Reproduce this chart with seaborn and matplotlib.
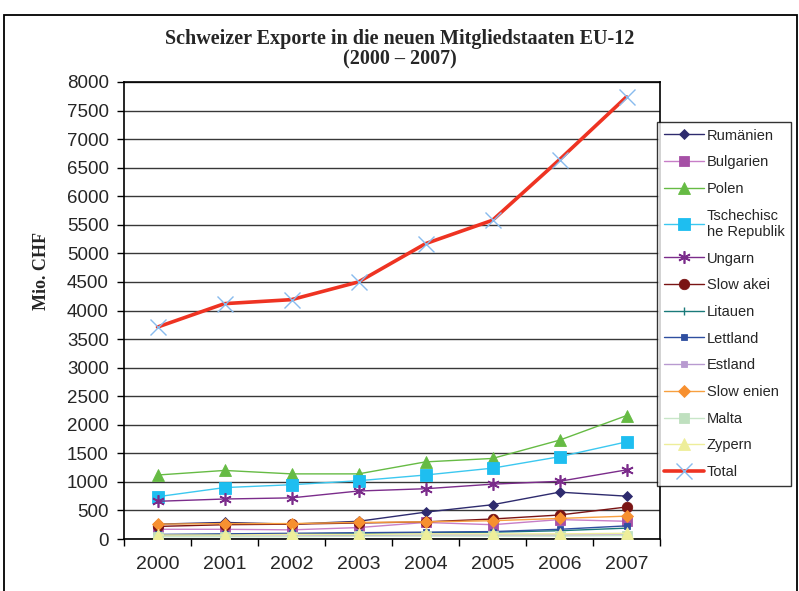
import matplotlib
matplotlib.use("Agg")
import matplotlib.pyplot as plt
from matplotlib.patches import Rectangle
from matplotlib.ticker import FixedLocator, NullFormatter, FixedFormatter
import seaborn as sns
import pandas as pd

years = [2000, 2001, 2002, 2003, 2004, 2005, 2006, 2007]

rumaenien = [260, 290, 260, 310, 470, 600, 820, 750]
bulgarien = [170, 170, 160, 200, 290, 250, 340, 310]
polen = [1120, 1200, 1140, 1140, 1350, 1410, 1730, 2160]
tschechien = [740, 900, 950, 1020, 1120, 1240, 1440, 1700]
ungarn = [660, 700, 720, 840, 880, 960, 1010, 1210]
slowakei = [220, 250, 260, 280, 300, 350, 420, 560]
litauen = [70, 80, 90, 100, 110, 120, 145, 190]
lettland = [80, 90, 100, 110, 120, 130, 170, 230]
estland = [50, 50, 50, 60, 70, 70, 70, 70]
slowenien = [260, 270, 270, 290, 300, 320, 360, 400]
malta = [40, 40, 40, 50, 50, 50, 50, 60]
zypern = [70, 70, 80, 80, 90, 90, 90, 100]
total = [3710, 4120, 4190, 4500, 5170, 5580, 6640, 7740]

labels = ["Rumänien", "Bulgarien", "Polen", "Tschechisc\nhe Republik", "Ungarn",
          "Slow akei", "Litauen", "Lettland", "Estland", "Slow enien", "Malta",
          "Zypern", "Total"]
series = [rumaenien, bulgarien, polen, tschechien, ungarn, slowakei, litauen,
          lettland, estland, slowenien, malta, zypern, total]

title = "Schweizer Exporte in die neuen Mitgliedstaaten EU-12\n(2000 – 2007)"
ylabel = "Mio. CHF"
yticks = list(range(0, 8001, 500))

styles = {
    "Rumänien": dict(color="#2E2B6E", marker="D", ms=5.5, mfc="#2E2B6E", mec="#2E2B6E", lw=1.0),
    "Bulgarien": dict(color="#C77EC7", marker="s", ms=7, mfc="#A650A6", mec="#A650A6", lw=1.0),
    "Polen": dict(color="#66BB44", marker="^", ms=8, mfc="#66BB44", mec="#66BB44", lw=1.0),
    "Tschechisc\nhe Republik": dict(color="#3CC8F0", marker="s", ms=8.5, mfc="#1EBEF0", mec="#1EBEF0", lw=1.0),
    "Ungarn": dict(color="#7B2C8B", marker=(6, 2, 0), ms=9, mfc="#7B2C8B", mec="#7B2C8B", lw=1.0, mew=1.2),
    "Slow akei": dict(color="#7A1414", marker="o", ms=7.5, mfc="#7A1414", mec="#7A1414", lw=1.0),
    "Litauen": dict(color="#1A7A7A", marker="|", ms=6, mfc="#1A7A7A", mec="#1A7A7A", lw=1.0, mew=1.0),
    "Lettland": dict(color="#2F4FA0", marker="s", ms=4.5, mfc="#2F4FA0", mec="#2F4FA0", lw=1.0),
    "Estland": dict(color="#B89AD0", marker="s", ms=4.5, mfc="#B89AD0", mec="#B89AD0", lw=1.0),
    "Slow enien": dict(color="#F7A040", marker="D", ms=6.5, mfc="#F79030", mec="#F79030", lw=1.0),
    "Malta": dict(color="#C8E6C8", marker="s", ms=7.5, mfc="#BFE0BF", mec="#BFE0BF", lw=1.0),
    "Zypern": dict(color="#EEEE9A", marker="^", ms=8, mfc="#EEEE9A", mec="#EEEE9A", lw=1.0),
    "Total": dict(color="#EE3322", marker="x", ms=11, mfc="#88BBEE", mec="#88BBEE", lw=2.6, mew=1.0),
}

rows = []
for lab, vals in zip(labels, series):
    for i, (yr, v) in enumerate(zip(years, vals)):
        rows.append({"series": lab, "pos": i, "year": yr, "value": v})
df = pd.DataFrame(rows)

sns.set_style("white")
plt.rcParams["font.family"] = ["Liberation Sans", "DejaVu Sans"]

fig = plt.figure(figsize=(7.99, 5.91), dpi=100)
ax = fig.add_axes([124 / 799, 1 - 539 / 591, (660 - 124) / 799, (539 - 82) / 591])

for lab in labels:
    st = styles[lab]
    sub = df[df["series"] == lab]
    sns.lineplot(data=sub, x="pos", y="value", ax=ax, color=st["color"],
                 marker=st["marker"], markersize=st["ms"],
                 markerfacecolor=st["mfc"], markeredgecolor=st["mec"],
                 markeredgewidth=st.get("mew", 0.6), linewidth=st["lw"],
                 label=lab, legend=False, zorder=3)

n = len(years)
ax.set_xlim(-0.5, n - 0.5)
ax.set_ylim(0, 8000)
ax.set_yticks(yticks)
ax.set_yticklabels([str(t) for t in yticks])
ax.xaxis.set_major_locator(FixedLocator([i - 0.5 for i in range(n + 1)]))
ax.xaxis.set_major_formatter(NullFormatter())
ax.xaxis.set_minor_locator(FixedLocator(list(range(n))))
ax.xaxis.set_minor_formatter(FixedFormatter([str(y) for y in years]))
ax.tick_params(axis="x", which="major", direction="out", length=5, width=1, color="black", bottom=True)
ax.tick_params(axis="x", which="minor", length=0, pad=12, labelsize=14)
ax.tick_params(axis="y", which="major", direction="out", length=5, width=1, color="black", left=True, pad=6, labelsize=13.5)
ax.set_xlabel("")
ax.set_ylabel("")
ax.grid(axis="y", color="#383838", linewidth=1.0, zorder=0)
ax.set_axisbelow(True)
for s in ax.spines.values():
    s.set_visible(True)
    s.set_color("black")
    s.set_linewidth(1.2)

fig.text(0.5, 1 - 29 / 591, title, ha="center", va="top", fontsize=14.5,
         fontweight="bold", family=["Liberation Serif", "DejaVu Serif"], linespacing=1.0)
fig.text(42 / 799, 1 - 271 / 591, ylabel, ha="center", va="center", rotation=90,
         fontsize=13, fontweight="bold", family=["Liberation Serif", "DejaVu Serif"])

handles, labs = ax.get_legend_handles_labels()
leg = fig.legend(handles, labs, loc="upper left",
                 bbox_to_anchor=(657 / 799, 1 - 122 / 591),
                 frameon=True, fancybox=False, edgecolor="black",
                 fontsize=10.5, handlelength=2.75, handletextpad=0.2,
                 labelspacing=0.87, borderpad=0.45, borderaxespad=0)
leg.get_frame().set_linewidth(1.0)

fig.patches.append(Rectangle((4 / 799, -0.05), (797 - 4) / 799, 1 - 15 / 591 + 0.05,
                             transform=fig.transFigure, fill=False, ec="black", lw=1.3))

fig.savefig("out.png", dpi=100)
